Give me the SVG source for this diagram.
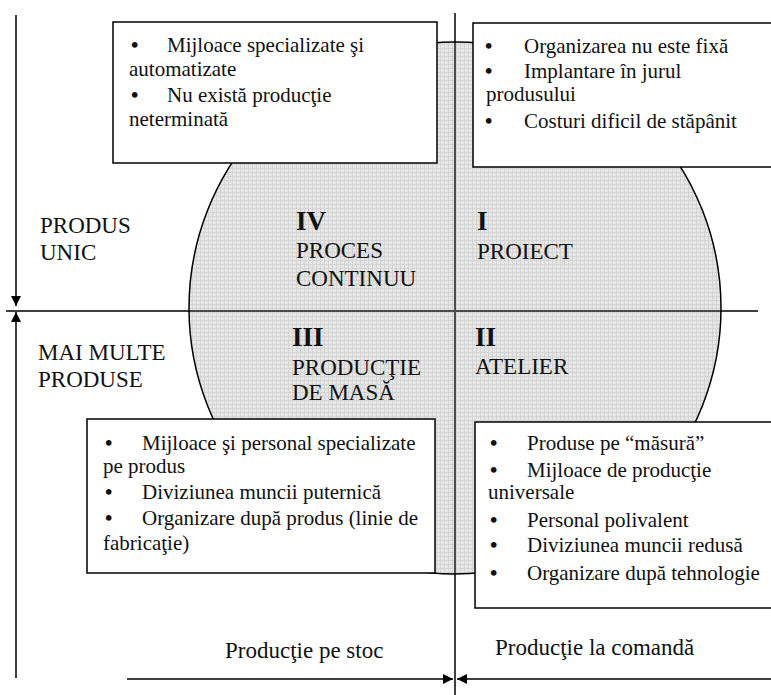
<svg xmlns="http://www.w3.org/2000/svg" width="771" height="695" viewBox="0 0 771 695">
  <defs>
    <pattern id="grid" width="4" height="4" patternUnits="userSpaceOnUse">
      <rect width="4" height="4" fill="#e6e6e6"/>
      <path d="M0 0.5H4M0.5 0V4" stroke="#d4d4d4" stroke-width="1"/>
    </pattern>
    <marker id="tip" viewBox="0 0 10 10" refX="10" refY="5" markerWidth="10" markerHeight="10" markerUnits="userSpaceOnUse" orient="auto">
      <path d="M0 0L10 5L0 10Z" fill="#000"/>
    </marker>
    <style>
      .body { font-family: "Liberation Serif", "Times New Roman", serif; font-size: 21px; fill: #111; }
      .bul { font-family: "Liberation Serif", "Times New Roman", serif; font-size: 21px; font-weight: bold; fill: #111; }
      .lab { font-family: "Liberation Serif", "Times New Roman", serif; font-size: 23px; fill: #111; }
      .num { font-family: "Liberation Serif", "Times New Roman", serif; font-size: 27px; font-weight: bold; fill: #111; }
      .box { fill: #fff; stroke: #000; stroke-width: 1.5; }
      .ax { stroke: #000; stroke-width: 1.5; fill: none; }
      .axin { stroke: #555; stroke-width: 1.5; fill: none; }
    </style>
  </defs>

  <!-- shaded disc of production types -->
  <circle id="disc" cx="455" cy="308" r="266" fill="url(#grid)" stroke="#000" stroke-width="1.5"/>

  <!-- axes and arrows -->
  <g id="connectors">
    <line class="ax" x1="455" y1="13" x2="455" y2="695"/>
    <line class="ax" x1="6" y1="311" x2="758" y2="311"/>
    <line class="axin" x1="455" y1="43" x2="455" y2="573"/>
    <line class="axin" x1="190" y1="311" x2="720" y2="311"/>
    <line class="ax" x1="16" y1="15" x2="16" y2="306" marker-end="url(#tip)"/>
    <line class="ax" x1="16" y1="678" x2="16" y2="312" marker-end="url(#tip)"/>
    <line class="ax" x1="127" y1="679" x2="453" y2="679" marker-end="url(#tip)"/>
    <line class="ax" x1="771" y1="679" x2="457" y2="679" marker-end="url(#tip)"/>
  </g>

  <!-- side labels -->
  <g id="produs-unic">
    <text class="lab" x="40" y="233">PRODUS</text>
    <text class="lab" x="40" y="260">UNIC</text>
  </g>
  <g id="mai-multe-produse">
    <text class="lab" x="38" y="360">MAI MULTE</text>
    <text class="lab" x="38" y="387">PRODUSE</text>
  </g>
  <g id="productie-stoc">
    <text class="lab" x="225" y="658">Producţie pe stoc</text>
  </g>
  <g id="productie-comanda">
    <text class="lab" x="495" y="655">Producţie la comandă</text>
  </g>

  <!-- quadrant labels -->
  <g id="q4">
    <text class="num" x="296" y="230">IV</text>
    <text class="lab" x="296" y="258">PROCES</text>
    <text class="lab" x="296" y="286">CONTINUU</text>
  </g>
  <g id="q1">
    <text class="num" x="477" y="230">I</text>
    <text class="lab" x="477" y="259">PROIECT</text>
  </g>
  <g id="q3">
    <text class="num" x="292" y="346">III</text>
    <text class="lab" x="292" y="375">PRODUCŢIE</text>
    <text class="lab" x="292" y="400">DE MASĂ</text>
  </g>
  <g id="q2">
    <text class="num" x="475" y="346">II</text>
    <text class="lab" x="475" y="374">ATELIER</text>
  </g>

  <!-- description boxes -->
  <g id="box-q4">
    <rect class="box" x="113" y="22" width="324" height="141"/>
    <text class="bul" x="131" y="52">•</text>
    <text class="body" x="167" y="52">Mijloace specializate şi</text>
    <text class="body" x="129" y="76">automatizate</text>
    <text class="bul" x="131" y="102">•</text>
    <text class="body" x="167" y="102">Nu există producţie</text>
    <text class="body" x="129" y="126">neterminată</text>
  </g>
  <g id="box-q1">
    <rect class="box" x="473" y="23" width="302" height="144"/>
    <text class="bul" x="485" y="53">•</text>
    <text class="body" x="524" y="53">Organizarea nu este fixă</text>
    <text class="bul" x="485" y="78">•</text>
    <text class="body" x="524" y="78">Implantare în jurul</text>
    <text class="body" x="486" y="101">produsului</text>
    <text class="bul" x="485" y="128">•</text>
    <text class="body" x="524" y="128">Costuri dificil de stăpânit</text>
  </g>
  <g id="box-q3">
    <rect class="box" x="87" y="419" width="348" height="154"/>
    <text class="bul" x="105" y="450">•</text>
    <text class="body" x="142" y="450">Mijloace şi personal specializate</text>
    <text class="body" x="103" y="473">pe produs</text>
    <text class="bul" x="105" y="499">•</text>
    <text class="body" x="142" y="499">Diviziunea muncii puternică</text>
    <text class="bul" x="105" y="525">•</text>
    <text class="body" x="142" y="525">Organizare după produs (linie de</text>
    <text class="body" x="103" y="550">fabricaţie)</text>
  </g>
  <g id="box-q2">
    <rect class="box" x="475" y="422" width="300" height="186"/>
    <text class="bul" x="490" y="450">•</text>
    <text class="body" x="527" y="450">Produse pe “măsură”</text>
    <text class="bul" x="490" y="477">•</text>
    <text class="body" x="527" y="477">Mijloace de producţie</text>
    <text class="body" x="488" y="499">universale</text>
    <text class="bul" x="490" y="527">•</text>
    <text class="body" x="527" y="527">Personal polivalent</text>
    <text class="bul" x="490" y="552">•</text>
    <text class="body" x="527" y="552">Diviziunea muncii redusă</text>
    <text class="bul" x="490" y="580">•</text>
    <text class="body" x="527" y="580">Organizare după tehnologie</text>
  </g>
</svg>
